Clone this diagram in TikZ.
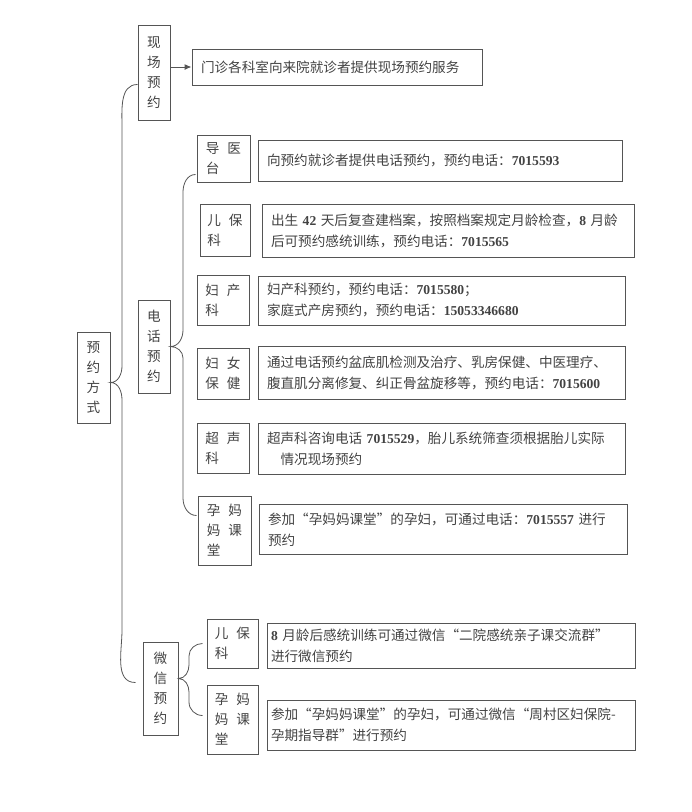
\documentclass[tikz,border=0pt]{standalone}
\usepackage{fontspec}
\setmainfont{Noto Sans CJK SC}
\newfontfamily\numfont{Liberation Serif}
\usepackage{tikz}
\usetikzlibrary{arrows.meta}
\definecolor{boxgray}{HTML}{555555}
\definecolor{textgray}{HTML}{424242}
\newcommand{\tel}[1]{{\numfont\bfseries #1}}
\newcommand{\labsp}{\hspace{8pt}}
\tikzset{
  headbox/.style={draw=boxgray, line width=1pt, text=textgray, align=center, inner sep=0pt, font=\fontsize{13.6pt}{20pt}\selectfont},
  labelbox/.style={draw=boxgray, line width=1pt, text=textgray, align=left, inner sep=0pt, font=\fontsize{13.6pt}{20pt}\selectfont},
  infobox/.style={draw=boxgray, line width=1pt, text=textgray, align=left, inner xsep=9pt, inner ysep=0pt, font=\fontsize{13.6pt}{21pt}\selectfont},
  bracket/.style={draw=boxgray, line width=0.8pt}
}

\begin{document}
\begin{tikzpicture}[x=1pt,y=1pt]%
\useasboundingbox (0,0) rectangle (692,-812);%
\node[headbox, minimum width=33pt, minimum height=91pt] (fangshi) at (93.5,-377.5) {预\\约\\方\\式};%
\node[headbox, minimum width=32pt, minimum height=95pt] (xianchang) at (154,-72.5) {现\\场\\预\\约};%
\node[infobox, text width=272pt, minimum height=36pt] (xcinfo) at (337,-67) {门诊各科室向来院就诊者提供现场预约服务};%
\node[headbox, minimum width=32pt, minimum height=93pt] (dianhua) at (154,-346.5) {电\\话\\预\\约};%
\node[headbox, minimum width=35pt, minimum height=93pt] (weixin) at (160.5,-688.5) {微\\信\\预\\约};%
%
\node[labelbox, minimum width=53pt, minimum height=47pt] (daoyi) at (223.5,-158.5) {导\labsp 医\\台};%
\node[infobox, text width=346pt, minimum height=41pt] (daoyiinfo) at (440,-160.5) {向预约就诊者提供电话预约，预约电话：\tel{7015593}};%
\node[labelbox, minimum width=50pt, minimum height=52pt] (erbao) at (225,-230) {儿\labsp 保\\科};%
\node[infobox, text width=354pt, minimum height=53pt] (erbaoinfo) at (448,-230.5) {出生~\tel{42}~天后复查建档案，按照档案规定月龄检查，\tel{8}~月龄\\后可预约感统训练，预约电话：\tel{7015565}};%
\node[labelbox, minimum width=52pt, minimum height=50pt] (fuchan) at (223,-300) {妇\labsp 产\\科};%
\node[infobox, text width=349pt, minimum height=49pt] (fuchaninfo) at (441.5,-300.5) {妇产科预约，预约电话：\tel{7015580}；\\家庭式产房预约，预约电话：\tel{15053346680}};%
\node[labelbox, minimum width=52pt, minimum height=51pt] (funv) at (223,-373.5) {妇\labsp 女\\保\labsp 健};%
\node[infobox, text width=349pt, minimum height=53pt] (funvinfo) at (441.5,-372.5) {通过电话预约盆底肌检测及治疗、乳房保健、中医理疗、\\腹直肌分离修复、纠正骨盆旋移等，预约电话：\tel{7015600}};%
\node[labelbox, minimum width=52pt, minimum height=50pt] (chaosheng) at (223,-448) {超\labsp 声\\科};%
\node[infobox, text width=349pt, minimum height=51pt] (chaoshenginfo) at (441.5,-448.5) {超声科咨询电话~\tel{7015529}，胎儿系统筛查须根据胎儿实际\\\hspace*{1em}情况现场预约};%
\node[labelbox, minimum width=53pt, minimum height=69pt] (yunmama) at (224.5,-530.5) {孕\labsp 妈\\妈\labsp 课\\堂};%
\node[infobox, text width=350pt, minimum height=50pt] (yunmamainfo) at (443,-529.5) {参加“孕妈妈课堂”的孕妇，可通过电话：\tel{7015557}~进行\\预约};%
%
\node[labelbox, minimum width=51pt, minimum height=49pt] (wxerbao) at (232.5,-643.5) {儿\labsp 保\\科};%
\node[infobox, inner xsep=4pt, text width=360pt, minimum height=45pt] (wxerbaoinfo) at (451,-645.5) {\tel{8}~月龄后感统训练可通过微信“二院感统亲子课交流群”\\进行微信预约};%
\node[labelbox, minimum width=51pt, minimum height=69pt] (wxyunmama) at (232.5,-719.5) {孕\labsp 妈\\妈\labsp 课\\堂};%
\node[infobox, inner xsep=4pt, text width=360pt, minimum height=50pt] (wxyunmamainfo) at (451,-725) {参加“孕妈妈课堂”的孕妇，可通过微信“周村区妇保院-\\孕期指导群”进行预约};%
%
\draw[line width=1pt, draw=boxgray, -{Latex[length=7pt,width=6pt]}] (xianchang.east |- xcinfo.west) -- (xcinfo.west);%
\draw[bracket] ([yshift=-12pt]xianchang.west) to[out=180,in=90] (122,-128) -- (122,-366) to[out=-90,in=0] ([yshift=-5pt]fangshi.east) to[out=0,in=90] (122,-400) -- (122,-630) to[out=-90,in=180] ([xshift=-7pt,yshift=6pt]weixin.west);%
\draw[bracket] ([xshift=-1pt,yshift=-16pt]daoyi.west) to[out=180,in=90] (183,-192) -- (183,-330) to[out=-90,in=0] (dianhua.east) to[out=0,in=90] (183,-358) -- (183,-498) to[out=-90,in=180] ([xshift=-1pt,yshift=15pt]yunmama.west);%
\draw[bracket] ([xshift=-4pt]wxerbao.west) to[out=180,in=90] (189,-656) -- (189,-665) to[out=-90,in=0] ([yshift=10pt]weixin.east) to[out=0,in=90] (189,-692) -- (189,-702) to[out=-90,in=180] ([xshift=-4pt,yshift=4pt]wxyunmama.west);%
\end{tikzpicture}
\end{document}
